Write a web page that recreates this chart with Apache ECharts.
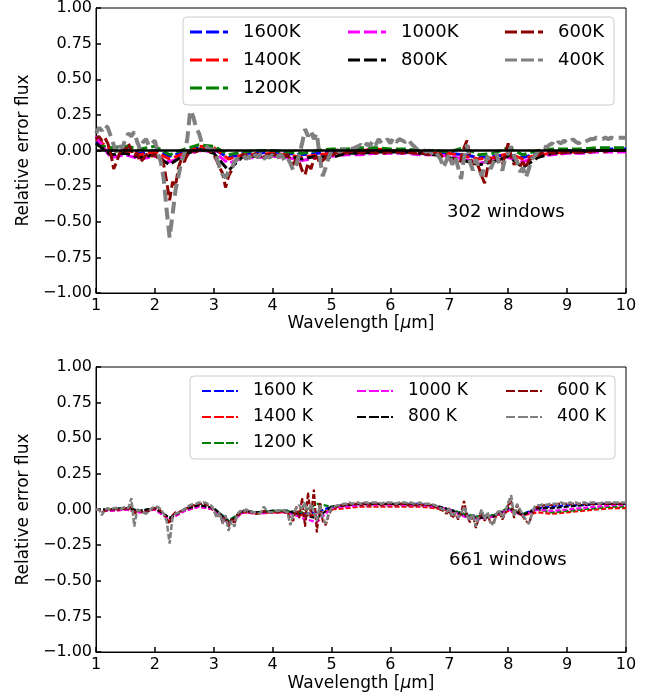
<!DOCTYPE html>
<html>
<head>
<meta charset="utf-8">
<script src="https://cdn.jsdelivr.net/npm/echarts@6/dist/echarts.min.js"></script>
<style>html,body{margin:0;padding:0;background:#fff;}#c{width:662px;height:697px;}</style>
</head>
<body>
<div id="c"></div>
<script>
// ---------- DATA ----------
const xTicks = [1, 2, 3, 4, 5, 6, 7, 8, 9, 10];
const yTicks = [-1, -0.75, -0.5, -0.25, 0, 0.25, 0.5, 0.75, 1];

// coarse grid (0.25 µm) for the smooth, warmer models
const wlCoarse = [1.00,1.25,1.50,1.75,2.00,2.25,2.50,2.75,3.00,3.25,3.50,3.75,4.00,4.25,4.50,4.75,5.00,5.25,5.50,5.75,
  6.00,6.25,6.50,6.75,7.00,7.25,7.50,7.75,8.00,8.25,8.50,8.75,9.00,9.25,9.50,9.75,10.00];

// fine grid (0.05 µm) for the noisy, cold models
const wlFine = [
 1.00,1.05,1.10,1.15,1.20,1.25,1.30,1.35,1.40,1.45,1.50,1.55,1.60,1.65,1.70,1.75,1.80,1.85,1.90,1.95,
 2.00,2.05,2.10,2.15,2.20,2.25,2.30,2.35,2.40,2.45,2.50,2.55,2.60,2.65,2.70,2.75,2.80,2.85,2.90,2.95,
 3.00,3.05,3.10,3.15,3.20,3.25,3.30,3.35,3.40,3.45,3.50,3.55,3.60,3.65,3.70,3.75,3.80,3.85,3.90,3.95,
 4.00,4.05,4.10,4.15,4.20,4.25,4.30,4.35,4.40,4.45,4.50,4.55,4.60,4.65,4.70,4.75,4.80,4.85,4.90,4.95,
 5.00,5.05,5.10,5.15,5.20,5.25,5.30,5.35,5.40,5.45,5.50,5.55,5.60,5.65,5.70,5.75,5.80,5.85,5.90,5.95,
 6.00,6.05,6.10,6.15,6.20,6.25,6.30,6.35,6.40,6.45,6.50,6.55,6.60,6.65,6.70,6.75,6.80,6.85,6.90,6.95,
 7.00,7.05,7.10,7.15,7.20,7.25,7.30,7.35,7.40,7.45,7.50,7.55,7.60,7.65,7.70,7.75,7.80,7.85,7.90,7.95,
 8.00,8.05,8.10,8.15,8.20,8.25,8.30,8.35,8.40,8.45,8.50,8.55,8.60,8.65,8.70,8.75,8.80,8.85,8.90,8.95,
 9.00,9.05,9.10,9.15,9.20,9.25,9.30,9.35,9.40,9.45,9.50,9.55,9.60,9.65,9.70,9.75,9.80,9.85,9.90,9.95,
 10.00];

// ----- top panel (302 windows) -----
const top1600 = [0.06,0.00,0.01,-0.02,0.00,-0.04,-0.01,0.02,0.01,-0.05,-0.02,-0.02,-0.01,-0.02,-0.03,-0.02,-0.01,0.00,0.00,0.01,
  0.00,0.00,0.00,-0.01,-0.02,-0.03,-0.05,-0.04,-0.03,-0.05,-0.02,-0.01,0.00,0.00,0.00,0.01,0.01];
const top1400 = [0.08,0.01,0.00,-0.03,-0.01,-0.06,-0.02,0.03,0.02,-0.06,-0.03,-0.03,-0.02,-0.03,-0.05,-0.03,-0.02,-0.01,0.00,0.01,
  0.00,-0.01,-0.01,-0.02,-0.02,-0.04,-0.06,-0.05,-0.02,-0.06,-0.03,-0.02,-0.01,-0.01,0.00,0.00,0.00];
const top1200 = [0.04,0.02,0.03,0.01,0.03,-0.03,0.01,0.04,0.03,-0.03,-0.01,0.00,0.00,-0.01,-0.02,0.00,0.01,0.01,0.02,0.02,
  0.01,0.01,0.00,0.00,-0.01,0.02,-0.03,-0.02,0.02,-0.03,0.00,0.01,0.01,0.01,0.02,0.02,0.02];
const top1000 = [0.10,-0.05,-0.03,-0.06,-0.04,-0.08,-0.04,0.00,-0.01,-0.09,-0.05,-0.05,-0.04,-0.05,-0.07,-0.05,-0.04,-0.03,-0.03,-0.02,
  -0.02,-0.02,-0.03,-0.03,-0.04,-0.06,-0.09,-0.07,-0.05,-0.08,-0.04,-0.03,-0.02,-0.02,-0.01,-0.01,-0.01];
const top800 = [0.05,-0.03,-0.02,-0.05,-0.03,-0.10,-0.03,0.01,-0.02,-0.14,-0.04,-0.04,-0.03,-0.04,-0.06,-0.04,-0.05,-0.02,-0.02,-0.01,
  -0.01,-0.01,-0.02,-0.03,-0.05,-0.07,-0.10,-0.08,-0.04,-0.12,-0.05,-0.02,-0.01,-0.01,0.00,0.00,0.00];
const top600 = [
 0.08,0.10,0.07,0.09,0.05,-0.02,-0.13,-0.08,-0.02,0.02,-0.01,0.05,0.00,-0.04,-0.02,-0.08,-0.06,-0.03,-0.02,-0.04,
 -0.03,-0.05,-0.04,-0.10,-0.22,-0.35,-0.22,-0.25,-0.12,-0.06,-0.08,-0.03,-0.02,0.00,-0.01,0.01,0.00,0.01,0.00,-0.01,
 -0.03,-0.07,-0.12,-0.16,-0.26,-0.18,-0.14,-0.08,-0.05,-0.04,-0.03,-0.05,-0.03,-0.04,-0.02,-0.04,-0.03,-0.05,-0.03,-0.04,
 -0.02,-0.03,-0.05,-0.02,-0.04,-0.03,-0.06,-0.10,-0.06,-0.08,-0.14,-0.17,-0.09,-0.13,-0.06,-0.04,-0.09,-0.07,-0.05,-0.03,
 -0.04,-0.02,-0.01,-0.02,-0.01,-0.02,-0.01,-0.01,-0.02,-0.01,-0.02,-0.01,-0.02,-0.01,-0.01,-0.02,-0.01,-0.01,-0.02,-0.01,
 -0.01,-0.02,-0.01,-0.01,-0.02,-0.01,-0.02,-0.01,-0.02,-0.02,-0.01,-0.02,-0.02,-0.03,-0.02,-0.02,-0.03,-0.03,-0.05,-0.03,
 -0.06,-0.09,-0.05,-0.10,-0.07,0.02,0.07,-0.04,-0.10,-0.07,-0.12,-0.18,-0.23,-0.12,-0.06,-0.09,-0.04,-0.07,-0.10,-0.03,
 0.05,-0.04,-0.10,-0.07,-0.11,-0.08,-0.12,-0.07,-0.05,-0.03,-0.04,-0.02,-0.02,-0.02,-0.01,-0.02,-0.01,-0.01,-0.02,-0.01,
 -0.01,-0.01,-0.02,-0.01,-0.01,-0.01,0.00,-0.01,-0.01,0.00,-0.01,0.00,0.00,-0.01,0.00,0.00,0.00,0.00,0.00,0.00,
 0.00];
const top400 = [
 0.12,0.16,0.14,0.18,0.16,0.10,0.04,-0.02,0.03,0.02,0.08,0.12,0.10,0.13,0.06,0.01,0.06,0.08,0.03,0.05,
 0.07,-0.02,-0.08,-0.20,-0.42,-0.61,-0.45,-0.28,-0.18,-0.08,-0.02,0.08,0.28,0.24,0.16,0.12,0.05,0.03,0.02,0.00,
 0.01,-0.05,-0.12,-0.17,-0.19,-0.15,-0.13,-0.08,-0.06,-0.05,-0.03,-0.06,-0.04,-0.07,-0.03,-0.05,-0.02,-0.06,-0.04,-0.05,
 -0.03,-0.06,-0.04,-0.03,-0.07,-0.05,-0.09,-0.14,-0.10,-0.03,0.05,0.15,0.10,0.14,0.08,0.12,-0.05,-0.18,-0.12,-0.05,
 0.00,0.02,0.00,-0.01,0.01,0.00,0.02,0.01,0.02,0.03,0.04,0.02,0.05,0.03,0.07,0.04,0.08,0.05,0.06,0.08,
 0.05,0.09,0.06,0.08,0.07,0.06,0.08,0.05,0.03,0.01,0.00,0.01,-0.01,0.00,-0.02,0.00,-0.03,-0.06,-0.12,-0.07,
 -0.02,-0.10,-0.04,-0.12,-0.20,-0.05,0.04,-0.08,-0.14,-0.06,-0.12,-0.18,-0.10,-0.04,-0.13,-0.08,-0.02,-0.10,-0.14,-0.05,
 -0.02,0.03,-0.04,-0.08,-0.15,-0.12,-0.19,-0.13,-0.06,-0.04,-0.01,0.01,0.03,0.02,0.04,0.05,0.03,0.06,0.05,0.07,
 0.05,0.06,0.08,0.06,0.05,0.07,0.06,0.07,0.08,0.08,0.09,0.08,0.08,0.09,0.08,0.09,0.08,0.09,0.09,0.09,
 0.09];

// ----- bottom panel (661 windows) -----
const bot1600 = [0.00,0.00,0.01,-0.01,0.01,-0.06,0.00,0.03,0.01,-0.08,-0.01,-0.02,-0.01,-0.01,-0.03,-0.02,0.02,0.03,0.04,0.04,
  0.04,0.04,0.04,0.02,0.00,-0.03,-0.05,-0.04,0.00,-0.03,0.01,0.02,0.03,0.03,0.04,0.04,0.04];
const bot1400 = [0.00,-0.01,0.00,-0.02,0.00,-0.07,-0.01,0.02,0.00,-0.09,-0.02,-0.03,-0.02,-0.02,-0.04,-0.04,0.00,0.01,0.02,0.02,
  0.02,0.02,0.02,0.01,-0.01,-0.04,-0.06,-0.05,-0.01,-0.04,-0.02,-0.03,-0.02,-0.01,0.00,0.01,0.01];
const bot1200 = [0.00,0.00,0.01,-0.01,0.01,-0.06,0.00,0.03,0.01,-0.08,-0.01,-0.02,-0.01,-0.01,-0.02,0.04,0.02,0.03,0.03,0.03,
  0.03,0.03,0.03,0.02,0.00,-0.03,-0.05,-0.04,0.01,-0.03,0.00,-0.02,-0.01,0.00,0.01,0.02,0.02];
const bot1000 = [0.00,-0.01,0.00,-0.02,0.00,-0.07,-0.01,0.02,0.00,-0.10,-0.02,-0.03,-0.02,-0.02,-0.06,-0.09,0.01,0.02,0.03,0.03,
  0.03,0.03,0.03,0.02,0.00,-0.05,-0.07,-0.05,0.00,-0.04,0.00,-0.01,0.00,0.01,0.02,0.03,0.03];
const bot800 = [0.00,0.00,0.01,-0.01,0.01,-0.06,0.00,0.03,0.01,-0.09,-0.01,-0.02,-0.01,-0.01,-0.04,-0.06,0.02,0.03,0.04,0.04,
  0.04,0.04,0.04,0.03,0.00,-0.04,-0.06,-0.05,0.01,-0.04,0.01,0.01,0.02,0.03,0.04,0.04,0.04];
const bot600 = [
 0.00,0.00,-0.02,-0.01,0.00,0.00,0.00,0.00,0.00,0.00,0.01,0.00,0.02,-0.04,0.00,-0.01,-0.02,-0.02,-0.01,0.00,
 0.01,0.01,-0.01,-0.03,-0.06,-0.10,-0.04,-0.02,-0.02,-0.01,0.00,0.01,0.02,0.03,0.03,0.04,0.04,0.04,0.03,0.02,
 -0.01,-0.05,-0.03,-0.09,-0.05,-0.12,-0.07,-0.10,-0.04,-0.02,-0.02,-0.01,-0.02,-0.02,-0.03,-0.03,-0.02,-0.01,-0.02,-0.02,
 -0.02,-0.02,-0.02,-0.01,-0.02,-0.02,-0.06,-0.08,0.02,-0.06,0.08,-0.12,0.12,-0.05,0.14,-0.16,0.05,-0.08,-0.11,-0.04,
 0.00,0.01,0.02,0.03,0.03,0.03,0.04,0.03,0.04,0.04,0.03,0.04,0.04,0.03,0.04,0.04,0.04,0.03,0.04,0.04,
 0.04,0.04,0.03,0.04,0.04,0.04,0.03,0.04,0.03,0.03,0.04,0.03,0.03,0.03,0.03,0.02,0.01,0.00,-0.01,-0.03,
 -0.01,-0.06,-0.03,-0.07,-0.02,0.06,-0.05,-0.09,-0.04,-0.13,-0.06,-0.02,-0.08,-0.03,-0.10,-0.09,-0.04,-0.02,-0.07,-0.03,
 0.03,0.06,-0.06,0.03,-0.02,-0.05,-0.08,-0.10,-0.04,0.01,0.02,0.02,0.03,0.03,0.03,0.03,0.03,0.04,0.04,0.04,
 0.04,0.04,0.04,0.04,0.04,0.04,0.04,0.04,0.04,0.04,0.04,0.04,0.04,0.04,0.04,0.04,0.04,0.04,0.04,0.04,
 0.04];
const bot400 = [
 0.00,0.00,-0.04,0.00,0.01,0.00,0.01,0.01,0.00,0.01,0.02,0.01,0.08,-0.12,0.00,-0.01,-0.02,-0.03,-0.01,0.01,
 0.02,0.02,0.00,-0.03,-0.08,-0.24,-0.05,-0.03,-0.02,-0.01,0.00,0.02,0.03,0.04,0.04,0.05,0.05,0.05,0.04,0.03,
 0.00,-0.06,-0.02,-0.10,-0.04,-0.15,-0.08,-0.12,-0.03,-0.01,-0.02,0.00,-0.01,-0.02,-0.02,-0.03,-0.02,0.02,-0.01,-0.02,
 -0.02,-0.01,-0.01,0.00,-0.01,-0.02,-0.11,-0.03,0.01,0.03,0.00,0.05,-0.04,0.04,-0.02,-0.08,0.03,-0.06,-0.10,-0.03,
 0.01,0.02,0.03,0.03,0.04,0.04,0.05,0.04,0.05,0.05,0.04,0.05,0.05,0.04,0.05,0.05,0.05,0.04,0.05,0.05,
 0.05,0.05,0.04,0.05,0.05,0.05,0.04,0.05,0.04,0.04,0.05,0.04,0.04,0.04,0.04,0.03,0.02,0.01,0.00,-0.02,
 0.01,-0.05,-0.02,-0.06,-0.03,0.02,-0.04,-0.08,-0.03,-0.12,-0.05,0.00,-0.07,-0.02,-0.09,-0.11,-0.03,0.00,-0.06,-0.02,
 0.05,0.10,-0.05,0.04,0.00,-0.04,-0.07,-0.10,-0.03,0.02,0.03,0.03,0.04,0.03,0.04,0.04,0.04,0.04,0.05,0.04,
 0.04,0.05,0.04,0.05,0.04,0.05,0.05,0.04,0.05,0.05,0.05,0.04,0.05,0.05,0.05,0.05,0.05,0.05,0.05,0.05,
 0.05];

const topNames = ['1600K','1400K','1200K','1000K','800K','600K','400K'];
const botNames = ['1600 K','1400 K','1200 K','1000 K','800 K','600 K','400 K'];
const colors = ['#0000ff','#ff0000','#008000','#ff00ff','#000000','#8b0000','#808080'];
const topLabel = '302 windows';
const botLabel = '661 windows';

// ---------- CHART ----------
const FONT = 'DejaVu Sans';
const pair = (xs, ys) => ys.map((v, i) => [xs[i], v]);

const topSets = [[wlCoarse, top1600],[wlCoarse, top1400],[wlCoarse, top1200],[wlCoarse, top1000],[wlCoarse, top800],[wlFine, top600],[wlFine, top400]];
const botSets = [[wlCoarse, bot1600],[wlCoarse, bot1400],[wlCoarse, bot1200],[wlCoarse, bot1000],[wlCoarse, bot800],[wlFine, bot600],[wlFine, bot400]];

const fmtY = v => (v < 0 ? '\u2212' : '') + Math.abs(v).toFixed(2);

function xAx(gi, gap) {
  return {
    type: 'value', gridIndex: gi, min: xTicks[0], max: xTicks[xTicks.length - 1], interval: 1,
    name: 'Wavelength [{i|\u03bc}m]', nameLocation: 'middle', nameGap: gap,
    nameTextStyle: { fontFamily: FONT, fontSize: 17, color: '#000', rich: { i: { fontStyle: 'italic', fontFamily: FONT, fontSize: 17 } } },
    axisLine: { show: true, onZero: false, lineStyle: { color: '#000', width: 1 } },
    axisTick: { show: true, inside: true, length: 5, lineStyle: { color: '#000', width: 1.5 } },
    axisLabel: { fontFamily: FONT, fontSize: 16, color: '#000', margin: 5 },
    splitLine: { show: false }
  };
}
function yAx(gi) {
  return {
    type: 'value', gridIndex: gi, min: yTicks[0], max: yTicks[yTicks.length - 1], interval: 0.25,
    name: 'Relative error flux', nameLocation: 'middle', nameGap: 64, nameRotate: 90,
    nameTextStyle: { fontFamily: FONT, fontSize: 17, color: '#000' },
    axisLine: { show: true, onZero: false, lineStyle: { color: '#000', width: 1 } },
    axisTick: { show: true, inside: true, length: 5, lineStyle: { color: '#000', width: 1.5 } },
    axisLabel: { fontFamily: FONT, fontSize: 16, color: '#000', margin: 4, formatter: fmtY },
    splitLine: { show: false }
  };
}

const series = [];
topSets.forEach((s, k) => {
  const o = {
    name: topNames[k], type: 'line', xAxisIndex: 0, yAxisIndex: 0, data: pair(s[0], s[1]),
    symbol: 'none', color: colors[k],
    lineStyle: { color: colors[k], width: k === 6 ? 4 : 3, type: k === 6 ? [12, 6] : [10, 4] }
  };
  if (k === 6) {
    o.markLine = { silent: true, symbol: 'none', z: 10, label: { show: false },
      lineStyle: { color: '#000', type: 'solid', width: 2.5 }, data: [{ yAxis: 0 }] };
  }
  series.push(o);
});
botSets.forEach((s, k) => {
  series.push({
    name: botNames[k], type: 'line', xAxisIndex: 1, yAxisIndex: 1, data: pair(s[0], s[1]),
    symbol: 'none', color: colors[k],
    lineStyle: { color: colors[k], width: k === 6 ? 2.5 : 2.2, type: k === 6 ? [6, 2] : [5, 2] }
  });
});

// dashed legend handles
const handleTop = 'path://M0,0h12v3h-12z M16,0h13v3h-13z M33,0h5v3h-5z';
const handleBot = 'path://M0,0h9v2h-9z M12,0h10v2h-10z M24,0h8v2h-8z M34,0h2v2h-2z';

function legendCol(names, left, top, fs, gap, iw, ih, icon) {
  return {
    data: names.map(n => ({ name: n, icon: icon })), orient: 'vertical', left: left, top: top, padding: 0,
    itemWidth: iw, itemHeight: ih, itemGap: gap, selectedMode: false, symbolKeepAspect: false,
    textStyle: { fontFamily: FONT, fontSize: fs, color: '#000', lineHeight: 20, padding: [0, 0, 0, 10] }
  };
}

const option = {
  animation: false,
  backgroundColor: '#fff',
  grid: [
    { left: 96, right: 36, top: 7, height: 286, show: true, borderColor: '#000', borderWidth: 1 },
    { left: 96, right: 36, top: 367, height: 285, show: true, borderColor: '#000', borderWidth: 1 }
  ],
  xAxis: [xAx(0, 20), xAx(1, 23)],
  yAxis: [yAx(0), yAx(1)],
  legend: [
    legendCol(topNames.slice(0, 3), 190, 22, 18, 8, 38, 3, handleTop),
    legendCol(topNames.slice(3, 5), 348, 22, 18, 8, 38, 3, handleTop),
    legendCol(topNames.slice(5, 7), 505, 22, 18, 8, 38, 3, handleTop),
    legendCol(botNames.slice(0, 3), 202, 381, 17, 6, 36, 2, handleBot),
    legendCol(botNames.slice(3, 5), 357, 381, 17, 6, 36, 2, handleBot),
    legendCol(botNames.slice(5, 7), 506, 381, 17, 6, 36, 2, handleBot)
  ],
  graphic: [
    { type: 'rect', z: 3, shape: { x: 183, y: 17, width: 431, height: 88, r: 4 },
      style: { fill: 'rgba(255,255,255,0.8)', stroke: '#cccccc', lineWidth: 1 } },
    { type: 'rect', z: 3, shape: { x: 190, y: 376, width: 425, height: 83, r: 4 },
      style: { fill: 'rgba(255,255,255,0.8)', stroke: '#cccccc', lineWidth: 1 } },
    { type: 'text', z: 5, left: 447, top: 203, style: { text: topLabel, fontFamily: FONT, fontSize: 18, fill: '#000' } },
    { type: 'text', z: 5, left: 449, top: 551, style: { text: botLabel, fontFamily: FONT, fontSize: 18, fill: '#000' } }
  ],
  series: series
};

const chart = echarts.init(document.getElementById('c'), null, { renderer: 'canvas' });
chart.setOption(option);
</script>
</body>
</html>
